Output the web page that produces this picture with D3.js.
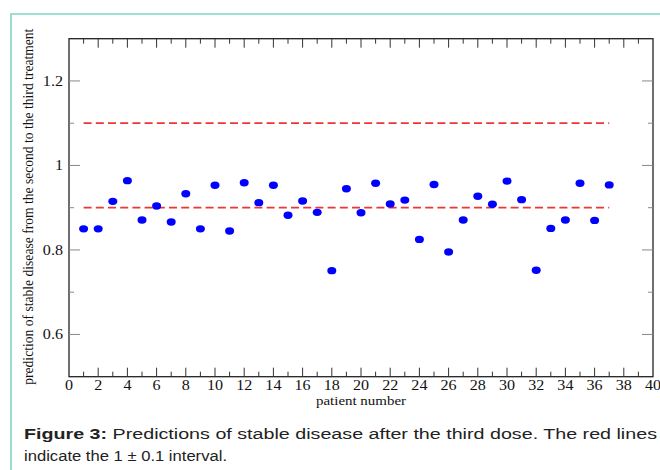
<!DOCTYPE html>
<html>
<head>
<meta charset="utf-8">
<script src="https://cdn.jsdelivr.net/npm/d3@7"></script>
<style>
  body { margin: 0; background: #fff; }
  svg { display: block; }
</style>
</head>
<body>
<svg></svg>
<script>
const W = 660, H = 470,
  margin = { top: 38.7, right: 7, bottom: 93.3, left: 69 },
  width = W - margin.left - margin.right,
  height = H - margin.top - margin.bottom,
  stretch = 1.15; // the figure looks widened a bit

// values
const patients = d3.range(1, 38);
const predictions = [
  0.850, 0.850, 0.915, 0.964, 0.871, 0.904, 0.866, 0.933, 0.850, 0.953,
  0.845, 0.959, 0.912, 0.953, 0.882, 0.916, 0.889, 0.751, 0.945, 0.888,
  0.958, 0.909, 0.918, 0.825, 0.955, 0.795, 0.871, 0.927, 0.908, 0.963,
  0.919, 0.752, 0.851, 0.871, 0.958, 0.870, 0.954
];
const bounds = [1.1, 0.9];
const boundRange = [1, 37];
const xTicks = d3.range(0, 41, 2);
const yTicks = [0.6, 0.8, 1, 1.2];
const yMinor = [0.7, 0.9, 1.1];
const xMinor = d3.range(1, 40, 2);

const serif = "'Liberation Serif', 'Times New Roman', serif";

var svg = d3.select("svg").attr("width", W).attr("height", H);

// teal frame of the figure
svg.append("path")
  .attr("d", "M11,471 V14 H661")
  .attr("fill", "none")
  .attr("stroke", "#7fd6c4")
  .attr("stroke-width", 1.6);

var chart = svg.append("g")
  .attr("transform", "translate(" + margin.left + "," + margin.top + ")");

var x = d3.scaleLinear().domain([0, 40]).range([0, width]);
var y = d3.scaleLinear().domain([0.5, 1.3]).range([height, 0]);

// frame
chart.append("rect")
  .attr("width", width)
  .attr("height", height)
  .attr("fill", "none")
  .attr("stroke", "#222")
  .attr("stroke-width", 1.3);

// x ticks, bottom and top, pointing inward
function xTickMarks(vals, len) {
  chart.append("g").selectAll("line").data(vals).enter().append("line")
    .attr("x1", d => x(d)).attr("x2", d => x(d))
    .attr("y1", height).attr("y2", height - len)
    .attr("stroke", "#333");
  chart.append("g").selectAll("line").data(vals).enter().append("line")
    .attr("x1", d => x(d)).attr("x2", d => x(d))
    .attr("y1", 0).attr("y2", len)
    .attr("stroke", "#333");
}
xTickMarks(xTicks.filter(d => d > 0 && d < 40), 9);
xTickMarks(xMinor, 5);

function yTickMarks(vals, len) {
  chart.append("g").selectAll("line").data(vals).enter().append("line")
    .attr("x1", 0).attr("x2", len)
    .attr("y1", d => y(d)).attr("y2", d => y(d))
    .attr("stroke", "#888");
  chart.append("g").selectAll("line").data(vals).enter().append("line")
    .attr("x1", width).attr("x2", width - len)
    .attr("y1", d => y(d)).attr("y2", d => y(d))
    .attr("stroke", "#888");
}
yTickMarks(yTicks, 11);
yTickMarks(yMinor, 5);

// tick labels
chart.append("g").selectAll("text").data(xTicks).enter().append("text")
  .attr("transform", d => "translate(" + x(d) + "," + (height + 13.5) + ") scale(" + stretch + ",1)")
  .attr("text-anchor", "middle")
  .attr("font-family", serif)
  .attr("font-size", 14)
  .attr("fill", "#111")
  .text(d => d);

chart.append("g").selectAll("text").data(yTicks).enter().append("text")
  .attr("transform", d => "translate(-6," + (y(d) + 5) + ") scale(" + stretch + ",1)")
  .attr("text-anchor", "end")
  .attr("font-family", serif)
  .attr("font-size", 14)
  .attr("fill", "#111")
  .text(d => d === 1 ? "1" : d3.format(".1f")(d));

// axis titles
chart.append("text")
  .attr("transform", "translate(" + width / 2 + "," + (height + 28) + ") scale(" + stretch + ",1)")
  .attr("text-anchor", "middle")
  .attr("font-family", serif)
  .attr("font-size", 13)
  .attr("fill", "#111")
  .text("patient number");

chart.append("text")
  .attr("transform", "translate(-36," + (height / 2 - 1) + ") scale(" + stretch + ",1) rotate(-90)")
  .attr("text-anchor", "middle")
  .attr("font-family", serif)
  .attr("font-size", 13.6)
  .attr("fill", "#111")
  .text("prediction of stable disease from the second to the third treatment");

// dashed interval lines
chart.append("g").selectAll("line").data(bounds).enter().append("line")
  .attr("x1", x(boundRange[0])).attr("x2", x(boundRange[1]))
  .attr("y1", d => y(d)).attr("y2", d => y(d))
  .attr("stroke", "#f03535")
  .attr("stroke-width", 1.7)
  .attr("stroke-dasharray", "8,4.2");

// points
chart.append("g").selectAll("ellipse").data(predictions).enter().append("ellipse")
  .attr("cx", (d, i) => x(patients[i]))
  .attr("cy", d => y(d))
  .attr("rx", 4.5)
  .attr("ry", 3.7)
  .attr("fill", "#0000ff");

// caption
const cap = svg.append("g")
  .attr("font-family", "'Liberation Sans', Arial, sans-serif")
  .attr("font-size", 15.5)
  .attr("fill", "#222");

var line1 = cap.append("text").attr("x", 24).attr("y", 439)
  .attr("textLength", 633)
  .attr("lengthAdjust", "spacingAndGlyphs");
line1.append("tspan").attr("font-weight", "bold").text("Figure 3:");
line1.append("tspan").text(" Predictions of stable disease after the third dose. The red lines");

cap.append("text").attr("x", 24).attr("y", 461)
  .attr("textLength", 203)
  .attr("lengthAdjust", "spacingAndGlyphs")
  .text("indicate the 1 \u00b1 0.1 interval.");
</script>
</body>
</html>
